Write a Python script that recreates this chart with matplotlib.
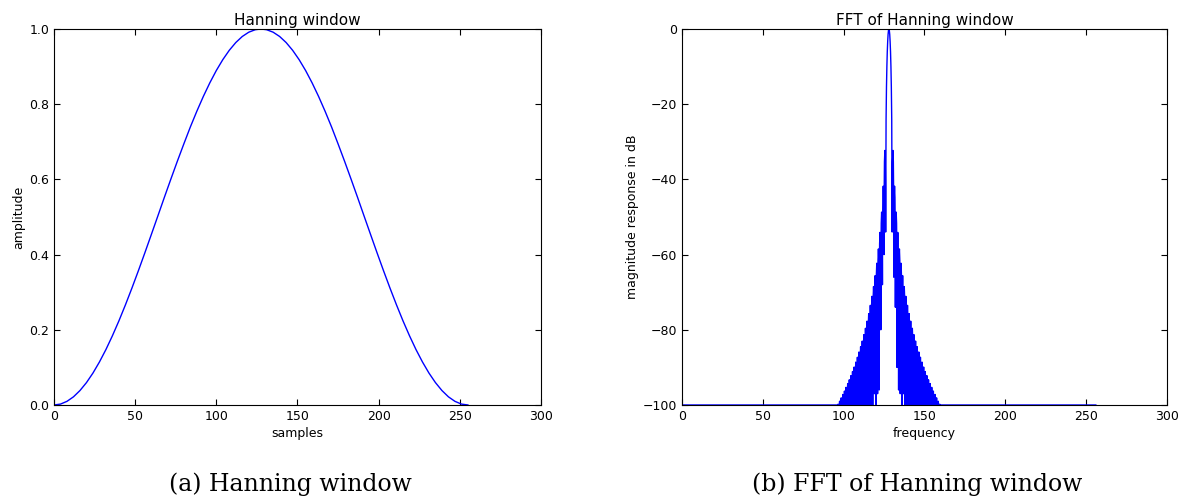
import matplotlib
matplotlib.use("Agg")
import matplotlib.pyplot as plt
import matplotlib.ticker as mticker

plt.rcParams['font.family'] = 'DejaVu Sans'
plt.rcParams['font.size'] = 9
plt.rcParams['xtick.direction'] = 'in'
plt.rcParams['ytick.direction'] = 'in'
plt.rcParams['xtick.top'] = True
plt.rcParams['ytick.right'] = True
plt.rcParams['xtick.major.size'] = 4
plt.rcParams['ytick.major.size'] = 4

# --------- Hanning window
win_samples = [0, 4, 8, 12, 16, 20, 24, 28, 32, 36, 40, 44, 48, 52, 56, 60,
               64, 68, 72, 76, 80, 84, 88, 92, 96, 100, 104, 108, 112, 116, 120, 124,
               127.5,
               131, 135, 139, 143, 147, 151, 155, 159, 163, 167, 171, 175, 179, 183,
               187, 191, 195, 199, 203, 207, 211, 215, 219, 223, 227, 231, 235, 239,
               243, 247, 251, 255]
win_amp = [0.0, 0.0024, 0.0097, 0.0217, 0.0384, 0.0595, 0.0849, 0.1144, 0.1475,
           0.1842, 0.2238, 0.2662, 0.3108, 0.3572, 0.4050, 0.4538, 0.5029, 0.5523,
           0.6008, 0.6484, 0.6945, 0.7394, 0.7813, 0.8206, 0.8568, 0.8896, 0.9185,
           0.9434, 0.9640, 0.9801, 0.9915, 0.9981,
           1.0,
           0.9981, 0.9915, 0.9801, 0.9640, 0.9434, 0.9185, 0.8896, 0.8568, 0.8206,
           0.7813, 0.7394, 0.6945, 0.6484, 0.6008, 0.5523, 0.5029, 0.4538, 0.4050,
           0.3572, 0.3108, 0.2662, 0.2238, 0.1842, 0.1475, 0.1144, 0.0849, 0.0595,
           0.0384, 0.0217, 0.0097, 0.0024, 0.0]

# --------- FFT of the window (dB, clipped at -100)
centre = 128
freq_end = 256
floor_db = -100
main_offset = [-1.75, -1.5, -1.25, -1.0, -0.75, -0.5, -0.25, 0.0,
               0.25, 0.5, 0.75, 1.0, 1.25, 1.5, 1.75]
main_db = [-24.1, -15.4, -9.9, -6.0, -3.3, -1.4, -0.35, 0.0,
           -0.35, -1.4, -3.3, -6.0, -9.9, -15.4, -24.1]
lobe_offset = [2.5, 3.5, 4.5, 5.5, 6.5, 7.5, 8.5, 9.5, 10.5, 11.5, 12.5, 13.5,
               14.5, 15.5, 16.5, 17.5, 18.5, 19.5, 20.5, 21.5, 22.5, 23.5, 24.5,
               25.5, 26.5, 27.5, 28.5, 29.5, 30.5, 31.5]
lobe_db = [-32.3, -41.8, -48.7, -54.1, -58.5, -62.3, -65.6, -68.5, -71.1, -73.5,
           -75.7, -77.7, -79.6, -81.3, -83.0, -84.5, -85.9, -87.3, -88.6, -89.9,
           -91.1, -92.2, -93.3, -94.3, -95.3, -96.3, -97.2, -98.1, -99.0, -99.8]
# shape of one side lobe around its top (offset in bins, drop in dB)
lobe_shape_offset = [-0.4, -0.25, 0.0, 0.25, 0.4]
lobe_shape_drop = [-10.0, -3.0, 0.0, -3.0, -10.0]
# depth of the null just inside each side lobe (offsets 2, 3, 4, ...)
null_left_db = [-54, -60, -68, -80, -96, -97, -100, -97, -100, -100, -100, -100,
                -100, -100, -100, -100, -100, -100, -100, -100, -100, -100, -100,
                -100, -100, -100, -100, -100, -100, -100]
null_right_db = [-54, -66, -74, -90, -96, -97, -100, -97, -100, -100, -100, -100,
                 -100, -100, -100, -100, -100, -100, -100, -100, -100, -100, -100,
                 -100, -100, -100, -100, -100, -100, -100]


def lobe_points(c, peak):
    xs = [c + o for o in lobe_shape_offset]
    ys = [max(peak + d, floor_db) for d in lobe_shape_drop]
    return xs, ys


# assemble the trace: floor, left lobes, main lobe, right lobes, floor
fx = [0]
fy = [floor_db]
for m, p, n in reversed(list(zip(lobe_offset, lobe_db, null_left_db))):
    xs, ys = lobe_points(centre - m, p)
    fx += xs + [centre - m + 0.5]
    fy += ys + [n]
for m, d in zip(main_offset, main_db):
    fx.append(centre + m)
    fy.append(d)
for m, p, n in zip(lobe_offset, lobe_db, null_right_db):
    xs, ys = lobe_points(centre + m, p)
    fx += [centre + m - 0.5] + xs
    fy += [n] + ys
fx.append(freq_end)
fy.append(floor_db)

fig = plt.figure(figsize=(11.84, 4.99), dpi=100)
ax1 = fig.add_axes([0.0456, 0.1884, 0.4113, 0.7535])
ax2 = fig.add_axes([0.576, 0.1884, 0.4096, 0.7535])

ax1.plot(win_samples, win_amp, "-", color='blue', lw=1.0)
ax1.set_xlim(0, 300)
ax1.set_ylim(0, 1.0)
ax1.set_xticks([0, 50, 100, 150, 200, 250, 300])
ax1.set_yticks([0.0, 0.2, 0.4, 0.6, 0.8, 1.0])
ax1.yaxis.set_major_formatter(mticker.FormatStrFormatter('%.1f'))
ax1.set_title("Hanning window", fontsize=11, pad=3)
ax1.set_xlabel("samples", labelpad=3)
ax1.set_ylabel("amplitude", labelpad=3)

ax2.plot(fx, fy, "-", color='blue', lw=1.0)
ax2.set_xlim(0, 300)
ax2.set_ylim(-100, 0)
ax2.set_xticks([0, 50, 100, 150, 200, 250, 300])
ax2.set_yticks([-100, -80, -60, -40, -20, 0])
ax2.set_title("FFT of Hanning window", fontsize=11, pad=3)
ax2.set_xlabel("frequency", labelpad=3)
ax2.set_ylabel("magnitude response in dB", labelpad=3)

fig.text(0.245, 0.030, "(a) Hanning window", ha='center', va='center',
         family='DejaVu Serif', fontsize=17)
fig.text(0.775, 0.030, "(b) FFT of Hanning window", ha='center', va='center',
         family='DejaVu Serif', fontsize=17)

fig.savefig("out.png", dpi=100, facecolor='white')
